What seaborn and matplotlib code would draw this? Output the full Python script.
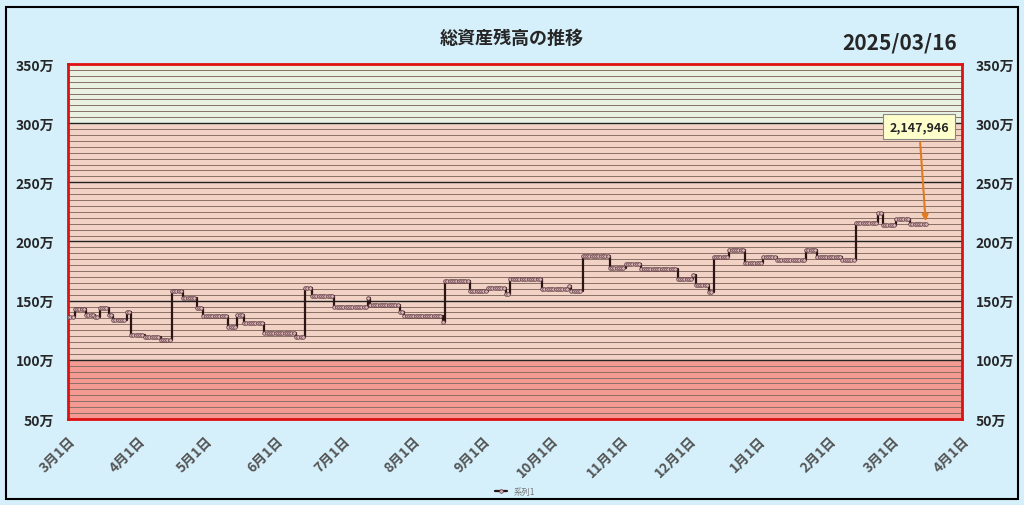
import numpy as np
import pandas as pd
import matplotlib.pyplot as plt
import seaborn as sns
from matplotlib.patches import Rectangle

# step change points: day offset from 2024-03-01 and balance (万円)
change_days = [0, 3, 8, 12, 14, 18, 20, 26, 28, 34, 41, 46, 51, 57, 60, 71, 75, 78, 87,
               101, 105, 108, 118, 133, 134, 147, 149, 166, 167, 178, 186, 194, 196, 210,
               222, 223, 228, 240, 247, 254, 270, 277, 278, 284, 286, 293, 300, 308, 314,
               327, 332, 343, 349, 359, 361, 367, 373]
change_vals = [136, 143, 138, 136, 144, 138, 134, 140, 121, 119, 117, 158, 152, 144, 137,
               128, 138, 131, 123, 119, 161, 154, 145, 152, 146, 140, 137, 132, 167, 158,
               161, 156, 168, 160, 162, 158, 188, 178, 181, 177, 168, 172, 163, 157, 187,
               193, 182, 187, 184, 193, 187, 184, 216, 224, 214, 219, 214.7946]
last_day = 380  # 2025/03/16
tick_days = [0, 31, 61, 92, 122, 153, 184, 214, 245, 275, 306, 337, 365, 396]
tick_labels = ['3月1日', '4月1日', '5月1日', '6月1日', '7月1日', '8月1日', '9月1日',
               '10月1日', '11月1日', '12月1日', '1月1日', '2月1日', '3月1日', '4月1日']
y_ticks = [50, 100, 150, 200, 250, 300, 350]
latest_label = '2,147,946'

# expand step points to one row per day
lengths = np.diff(change_days + [last_day + 1])
df = pd.DataFrame({'day': np.arange(last_day + 1),
                   'value': np.repeat(change_vals, lengths)})

sns.set_theme(style='white')
plt.rcParams['font.family'] = ['Noto Sans CJK JP', 'DejaVu Sans']

fig = plt.figure(figsize=(10.24, 5.06), dpi=100)
fig.patch.set_facecolor('#d5f0fb')
fig.patches.append(Rectangle((0.006, 0.012), 0.988, 0.972, transform=fig.transFigure,
                             fill=False, edgecolor='black', linewidth=1.5))
ax = fig.add_axes([0.0664, 0.170, 0.873, 0.7016])

# background bands
ax.axhspan(50, 100, color='#f39a93', zorder=0)
ax.axhspan(100, 300, color='#f1d2c5', zorder=0)
ax.axhspan(300, 350, color='#e9f1e3', zorder=0)
for y in range(55, 350, 5):
    major = y % 50 == 0
    ax.axhline(y, color='#222222' if major else '#8a6f66',
               linewidth=1.0 if major else 0.7, zorder=1)

sns.lineplot(data=df, x='day', y='value', ax=ax, drawstyle='steps-post',
             color='#2a1414', linewidth=1.6, marker='o', markersize=2.6,
             markerfacecolor='#d9b0b5', markeredgecolor='#5a3a3e', markeredgewidth=0.5,
             label='系列1', zorder=3)

ax.set_xlim(0, 396)
ax.set_ylim(50, 350)
ax.set_xticks(tick_days)
ax.set_xticklabels(tick_labels, rotation=45, ha='right', rotation_mode='anchor',
                   fontsize=10, fontweight='bold', fontstyle='italic', color='#555555')
ax.set_yticks(y_ticks)
ax.set_yticklabels([f'{v}万' for v in y_ticks], fontsize=10, fontweight='bold')
ax.tick_params(axis='y', labelright=True, right=False, left=False, pad=4)
ax.tick_params(axis='x', pad=4)
ax.set_xlabel('')
ax.set_ylabel('')
for side, sp in ax.spines.items():
    sp.set_color('#dd1111')
    sp.set_linewidth(2)

ax.legend(loc='upper center', bbox_to_anchor=(0.5, -0.17), frameon=False,
          fontsize=6, handlelength=1.5, labelcolor='#777777')

fig.text(0.5, 0.925, '総資産残高の推移', ha='center', va='center', fontsize=13, fontweight='bold')
fig.text(0.935, 0.915, '2025/03/16', ha='right', va='center', fontsize=15, fontweight='bold')

ax.annotate(latest_label, xy=(df['day'].iloc[-1], df['value'].iloc[-1]),
            xytext=(377, 297), ha='center', va='center', fontsize=9, fontweight='bold',
            bbox=dict(boxstyle='square,pad=0.5', fc='#ffffcc', ec='#888888', lw=0.8),
            arrowprops=dict(arrowstyle='-|>', color='#e07b20', lw=1.5), zorder=5)

fig.savefig('out.png', dpi=100, facecolor=fig.get_facecolor())
